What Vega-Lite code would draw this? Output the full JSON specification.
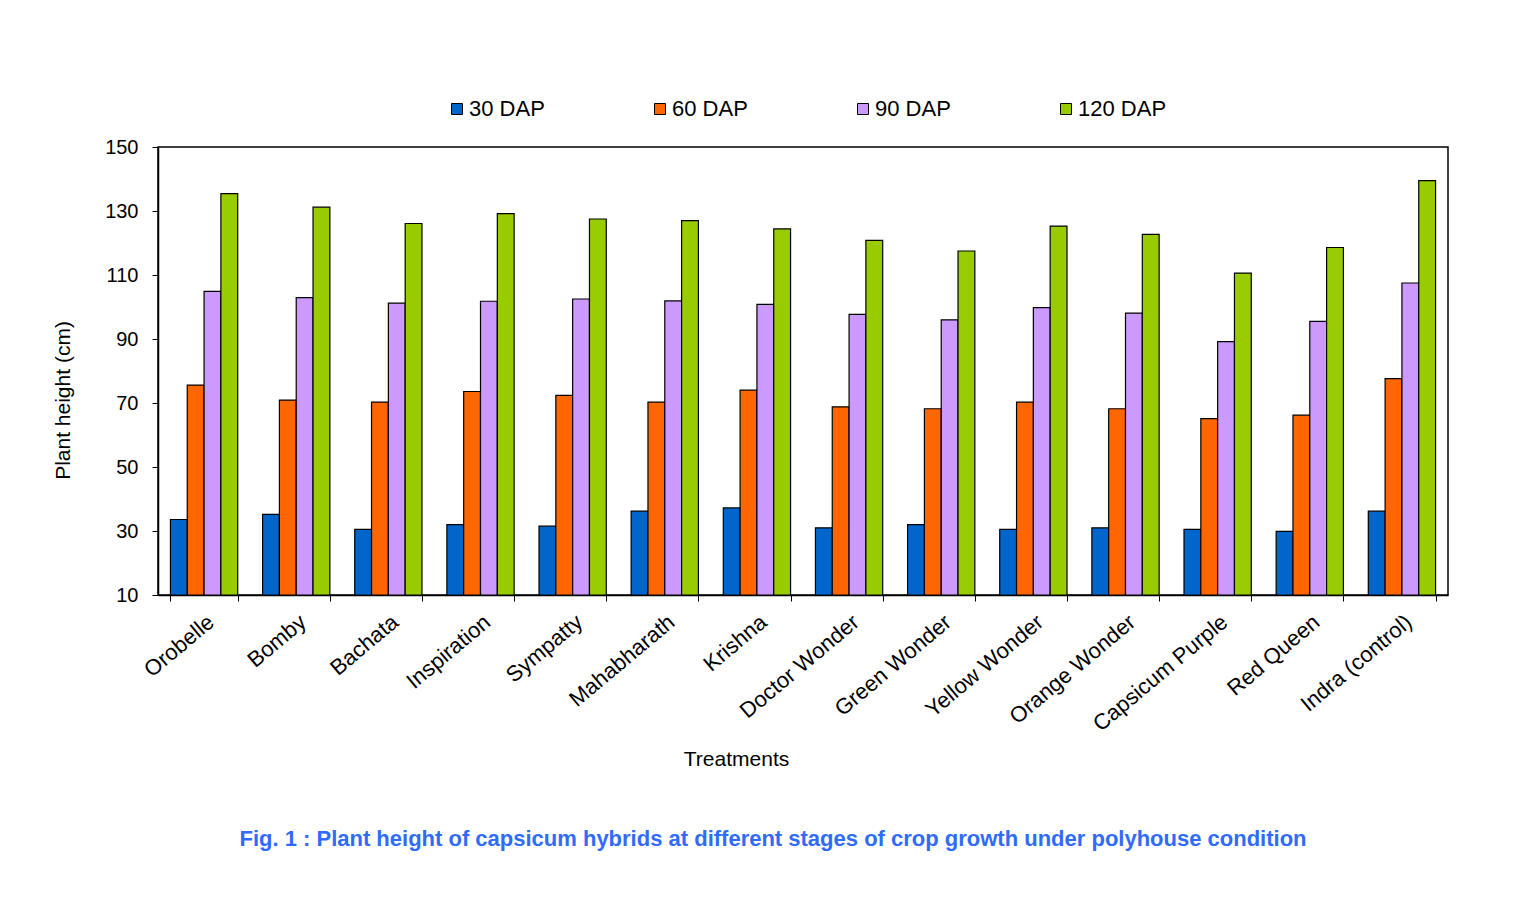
{
  "$schema": "https://vega.github.io/schema/vega-lite/v6.json",
  "width": 1290,
  "height": 448,
  "autosize": "none",
  "padding": {"left": 158, "top": 147, "right": 84, "bottom": 319},
  "background": "#ffffff",
  "title": {
    "text": "Fig. 1 : Plant height of capsicum hybrids at different stages of crop growth under polyhouse condition",
    "orient": "bottom",
    "anchor": "middle",
    "dx": -30,
    "offset": 60,
    "font": "Liberation Sans",
    "fontSize": 22,
    "fontWeight": "bold",
    "color": "#2F6BFF"
  },
  "data": {
    "values": [
      {"treatment": "Orobelle", "stage": "30 DAP", "height": 33.6},
      {"treatment": "Orobelle", "stage": "60 DAP", "height": 75.6},
      {"treatment": "Orobelle", "stage": "90 DAP", "height": 104.9},
      {"treatment": "Orobelle", "stage": "120 DAP", "height": 135.4},
      {"treatment": "Bomby", "stage": "30 DAP", "height": 35.2},
      {"treatment": "Bomby", "stage": "60 DAP", "height": 70.9},
      {"treatment": "Bomby", "stage": "90 DAP", "height": 102.9},
      {"treatment": "Bomby", "stage": "120 DAP", "height": 131.2},
      {"treatment": "Bachata", "stage": "30 DAP", "height": 30.5},
      {"treatment": "Bachata", "stage": "60 DAP", "height": 70.3},
      {"treatment": "Bachata", "stage": "90 DAP", "height": 101.2},
      {"treatment": "Bachata", "stage": "120 DAP", "height": 126.1},
      {"treatment": "Inspiration", "stage": "30 DAP", "height": 32.0},
      {"treatment": "Inspiration", "stage": "60 DAP", "height": 73.6},
      {"treatment": "Inspiration", "stage": "90 DAP", "height": 101.8},
      {"treatment": "Inspiration", "stage": "120 DAP", "height": 129.2},
      {"treatment": "Sympatty", "stage": "30 DAP", "height": 31.5},
      {"treatment": "Sympatty", "stage": "60 DAP", "height": 72.4},
      {"treatment": "Sympatty", "stage": "90 DAP", "height": 102.5},
      {"treatment": "Sympatty", "stage": "120 DAP", "height": 127.5},
      {"treatment": "Mahabharath", "stage": "30 DAP", "height": 36.2},
      {"treatment": "Mahabharath", "stage": "60 DAP", "height": 70.3},
      {"treatment": "Mahabharath", "stage": "90 DAP", "height": 101.9},
      {"treatment": "Mahabharath", "stage": "120 DAP", "height": 127.0},
      {"treatment": "Krishna", "stage": "30 DAP", "height": 37.2},
      {"treatment": "Krishna", "stage": "60 DAP", "height": 74.0},
      {"treatment": "Krishna", "stage": "90 DAP", "height": 100.8},
      {"treatment": "Krishna", "stage": "120 DAP", "height": 124.4},
      {"treatment": "Doctor  Wonder", "stage": "30 DAP", "height": 31.0},
      {"treatment": "Doctor  Wonder", "stage": "60 DAP", "height": 68.8},
      {"treatment": "Doctor  Wonder", "stage": "90 DAP", "height": 97.7},
      {"treatment": "Doctor  Wonder", "stage": "120 DAP", "height": 120.8},
      {"treatment": "Green  Wonder", "stage": "30 DAP", "height": 32.0},
      {"treatment": "Green  Wonder", "stage": "60 DAP", "height": 68.2},
      {"treatment": "Green  Wonder", "stage": "90 DAP", "height": 96.0},
      {"treatment": "Green  Wonder", "stage": "120 DAP", "height": 117.5},
      {"treatment": "Yellow Wonder", "stage": "30 DAP", "height": 30.5},
      {"treatment": "Yellow Wonder", "stage": "60 DAP", "height": 70.3},
      {"treatment": "Yellow Wonder", "stage": "90 DAP", "height": 99.8},
      {"treatment": "Yellow Wonder", "stage": "120 DAP", "height": 125.3},
      {"treatment": "Orange  Wonder", "stage": "30 DAP", "height": 31.0},
      {"treatment": "Orange  Wonder", "stage": "60 DAP", "height": 68.2},
      {"treatment": "Orange  Wonder", "stage": "90 DAP", "height": 98.1},
      {"treatment": "Orange  Wonder", "stage": "120 DAP", "height": 122.7},
      {"treatment": "Capsicum Purple", "stage": "30 DAP", "height": 30.5},
      {"treatment": "Capsicum Purple", "stage": "60 DAP", "height": 65.1},
      {"treatment": "Capsicum Purple", "stage": "90 DAP", "height": 89.2},
      {"treatment": "Capsicum Purple", "stage": "120 DAP", "height": 110.6},
      {"treatment": "Red Queen", "stage": "30 DAP", "height": 29.9},
      {"treatment": "Red Queen", "stage": "60 DAP", "height": 66.2},
      {"treatment": "Red Queen", "stage": "90 DAP", "height": 95.5},
      {"treatment": "Red Queen", "stage": "120 DAP", "height": 118.6},
      {"treatment": "Indra (control)", "stage": "30 DAP", "height": 36.2},
      {"treatment": "Indra (control)", "stage": "60 DAP", "height": 77.6},
      {"treatment": "Indra (control)", "stage": "90 DAP", "height": 107.5},
      {"treatment": "Indra (control)", "stage": "120 DAP", "height": 139.5}
    ]
  },
  "mark": {"type": "bar", "stroke": "#000000", "strokeWidth": 1.2},
  "encoding": {
    "x": {
      "field": "treatment",
      "type": "nominal",
      "sort": null,
      "scale": {"paddingInner": 0.27, "paddingOuter": 0.135},
      "axis": {
        "title": "Treatments",
        "titleFont": "Liberation Sans",
        "titleFontSize": 21,
        "titleFontWeight": "normal",
        "titleColor": "#000000",
        "titleX": 578,
        "titleY": 164,
        "titleBaseline": "middle",
        "titleAlign": "center",
        "labelAngle": -40,
        "labelFont": "Liberation Sans",
        "labelFontSize": 22,
        "labelColor": "#000000",
        "labelPadding": 10,
        "labelLimit": 300,
        "tickBand": "extent",
        "tickSize": 6,
        "tickColor": "#000000",
        "domainColor": "#000000",
        "domainWidth": 1.5
      }
    },
    "xOffset": {
      "field": "stage",
      "type": "nominal",
      "sort": ["30 DAP", "60 DAP", "90 DAP", "120 DAP"],
      "scale": {"paddingInner": 0, "paddingOuter": 0}
    },
    "y": {
      "field": "height",
      "type": "quantitative",
      "scale": {"domain": [10, 150], "nice": false, "zero": false},
      "axis": {
        "title": "Plant height (cm)",
        "titleFont": "Liberation Sans",
        "titleFontSize": 21,
        "titleFontWeight": "normal",
        "titleColor": "#000000",
        "titleAngle": -90,
        "titleX": -95,
        "titleY": 253,
        "titleBaseline": "middle",
        "titleAlign": "center",
        "values": [10, 30, 50, 70, 90, 110, 130, 150],
        "grid": false,
        "labelFont": "Liberation Sans",
        "labelFontSize": 20,
        "labelColor": "#000000",
        "labelPadding": 14,
        "tickSize": 6,
        "tickColor": "#000000",
        "domainColor": "#000000",
        "domainWidth": 1.5
      }
    },
    "y2": {"datum": 10},
    "color": {
      "field": "stage",
      "type": "nominal",
      "sort": ["30 DAP", "60 DAP", "90 DAP", "120 DAP"],
      "scale": {
        "domain": ["30 DAP", "60 DAP", "90 DAP", "120 DAP"],
        "range": ["#0066CC", "#FF6600", "#CC99FF", "#99CC00"]
      },
      "legend": {
        "title": null,
        "orient": "none",
        "legendX": 288,
        "legendY": -49,
        "direction": "horizontal",
        "columns": 4,
        "gridAlign": "all",
        "columnPadding": 91,
        "padding": 0,
        "symbolType": "square",
        "symbolSize": 121,
        "symbolStrokeColor": "#000000",
        "symbolStrokeWidth": 1,
        "symbolOpacity": 1,
        "labelFont": "Liberation Sans",
        "labelFontSize": 22,
        "labelColor": "#000000",
        "labelOffset": 1,
        "labelLimit": 200
      }
    }
  },
  "config": {
    "view": {"stroke": "#000000", "strokeWidth": 1.5}
  }
}
